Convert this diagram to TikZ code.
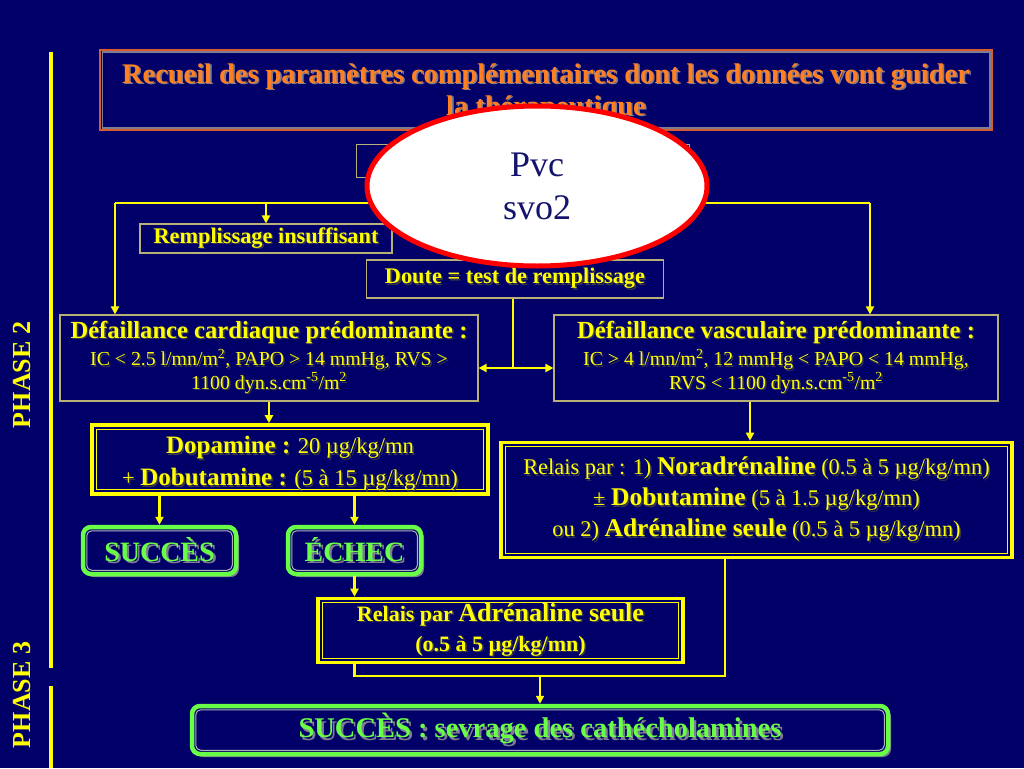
\documentclass[tikz,border=0pt]{standalone}
\usepackage{fontspec}
\setmainfont{Liberation Serif}
\usetikzlibrary{arrows.meta,shapes.geometric,shadows}
\definecolor{bg}{RGB}{0,0,104}
\definecolor{yl}{RGB}{255,255,0}
\definecolor{tanl}{RGB}{185,175,120}
\definecolor{org}{RGB}{255,128,32}
\definecolor{orgline}{RGB}{215,90,50}
\definecolor{grn}{RGB}{105,255,70}
\definecolor{shd}{RGB}{125,125,145}
\definecolor{shdy}{RGB}{55,55,75}
\definecolor{navy}{RGB}{20,20,110}
\newcommand{\shtxt}[2][shdy]{\leavevmode\rlap{\kern1.6pt\raisebox{-1.6pt}{\textcolor{#1}{#2}}}#2}
\newcommand{\gsh}[1]{\leavevmode\rlap{\kern2.4pt\raisebox{-2.4pt}{\textcolor{shd}{#1}}}#1}
\begin{document}
\begin{tikzpicture}[x=1pt,y=-1pt,
  ln/.style={draw=yl,line width=2.2pt},
  arr/.style={draw=yl,line width=2.2pt,-{Triangle[length=8pt,width=8pt]}},
  thinbox/.style={draw=tanl,line width=1.2pt,fill=bg,inner sep=0pt,align=center,text=yl},
  dblbox/.style={draw=yl,line width=3.6pt,fill=bg,inner sep=0pt,align=center,text=yl},
  innery/.style={draw=yl,line width=1.3pt},
  gbox/.style={draw=grn,line width=4.5pt,rounded corners=8pt,fill=bg,inner sep=0pt,align=center,text=grn,
    drop shadow={shadow xshift=3pt,shadow yshift=-3pt,fill=shd,opacity=1}},
  innerg/.style={draw=shd!60!white,line width=1pt,rounded corners=5pt},
  phase/.style={text=yl,font=\fontsize{26}{30}\selectfont\bfseries,rotate=90}
]
\useasboundingbox (0,0) rectangle (1024,768);
\fill[bg] (0,0) rectangle (1024,768);

% phase bars
\coordinate (b1) at (51,52);
\coordinate (b2) at (51,668);
\coordinate (b3) at (51,686);
\coordinate (b4) at (51,768);
\draw[yl,line width=4.5pt] (b1) -- (b2);
\draw[yl,line width=4.5pt] (b3) -- (b4);
\node[phase] (ph2) at (22,375) {PHASE 2};
\node[phase] (ph3) at (22,695) {PHASE 3};

% title
\node[draw=orgline,line width=1.6pt,minimum width=892pt,minimum height=80pt,inner sep=0pt] (tbox) at (546,90) {};
\draw[shd,line width=1.4pt] ([shift={(3pt,-3pt)}]tbox.north west) rectangle ([shift={(-3pt,3pt)}]tbox.south east);
\node[text=org,align=center,font=\fontsize{28.4}{32}\selectfont\bfseries] (title) at (546,93)
  {\shtxt[shd]{Recueil des paramètres complémentaires dont les données vont guider}\\\shtxt[shd]{la thérapeutique}};

% hidden box behind ellipse
\node[thinbox,minimum width=333pt,minimum height=33pt] (hid) at (523,161) {};

% boxes
\node[thinbox,minimum width=252pt,minimum height=29pt,font=\fontsize{22.3}{24}\selectfont\bfseries] (rem) at (266,238.5) {\shtxt{Remplissage insuffisant}};
\node[thinbox,minimum width=297pt,minimum height=38pt,font=\fontsize{22.3}{24}\selectfont\bfseries] (dou) at (515,279) {\shtxt{Doute = test de remplissage}};

\node[thinbox,minimum width=418pt,minimum height=86pt,font=\fontsize{19.8}{22}\selectfont] (card) at (269,358)
  {{\fontsize{24.6}{26}\selectfont\bfseries\shtxt{Défaillance cardiaque prédominante :}}\\[3pt]
   \shtxt{IC < 2.5 l/mn/m\textsuperscript{2}, PAPO > 14 mmHg, RVS >}\\
   \shtxt{1100 dyn.s.cm\textsuperscript{-5}/m\textsuperscript{2}}};
\node[thinbox,minimum width=444pt,minimum height=86pt,font=\fontsize{19.8}{22}\selectfont] (vasc) at (776,358)
  {{\fontsize{24.6}{26}\selectfont\bfseries\shtxt{Défaillance vasculaire prédominante :}}\\[3pt]
   \shtxt{IC > 4 l/mn/m\textsuperscript{2}, 12 mmHg < PAPO < 14 mmHg,}\\
   \shtxt{RVS < 1100 dyn.s.cm\textsuperscript{-5}/m\textsuperscript{2}}};

\node[dblbox,minimum width=396pt,minimum height=69pt] (dopa) at (290,459.5) {};
\draw[innery] ([shift={(6pt,-6pt)}]dopa.north west) rectangle ([shift={(-6pt,6pt)}]dopa.south east);
\node[text=yl,align=center,inner sep=0pt,font=\fontsize{22.5}{32}\selectfont] (dopaT) at (290,464)
  {\shtxt{{\fontsize{25}{32}\selectfont\bfseries Dopamine :} 20 µg/kg/mn}\\
   \shtxt{+ {\fontsize{25}{32}\selectfont\bfseries Dobutamine :} (5 à 15 µg/kg/mn)}};

\node[dblbox,minimum width=511pt,minimum height=115pt,font=\fontsize{22.4}{31}\selectfont] (relR) at (756.5,500)
  {\shtxt{Relais par : 1) {\fontsize{25.5}{31}\selectfont\bfseries Noradrénaline} (0.5 à 5 µg/kg/mn)}\\
   \shtxt{± {\fontsize{25.5}{31}\selectfont\bfseries Dobutamine} (5 à 1.5 µg/kg/mn)}\\
   \shtxt{ou 2) {\fontsize{25.5}{31}\selectfont\bfseries Adrénaline seule} (0.5 à 5 µg/kg/mn)}};
\draw[innery] ([shift={(6pt,-6pt)}]relR.north west) rectangle ([shift={(-6pt,6pt)}]relR.south east);

\node[gbox,minimum width=153pt,minimum height=47pt,font=\fontsize{28}{30}\selectfont\bfseries] (succ) at (159.5,550.5) {\gsh{SUCCÈS}};
\draw[innerg] ([shift={(6pt,-6pt)}]succ.north west) rectangle ([shift={(-6pt,6pt)}]succ.south east);
\node[gbox,minimum width=133pt,minimum height=47pt,font=\fontsize{28}{30}\selectfont\bfseries] (echec) at (354.5,550.5) {\gsh{ÉCHEC}};
\draw[innerg] ([shift={(6pt,-6pt)}]echec.north west) rectangle ([shift={(-6pt,6pt)}]echec.south east);

\node[dblbox,minimum width=365pt,minimum height=64pt,font=\fontsize{22}{30}\selectfont\bfseries] (relA) at (500.5,630.5)
  {\shtxt{Relais par {\fontsize{26}{30}\selectfont Adrénaline seule}}\\
   \shtxt{(o.5 à 5 µg/kg/mn)}};
\draw[innery] ([shift={(6pt,-6pt)}]relA.north west) rectangle ([shift={(-6pt,6pt)}]relA.south east);

\node[gbox,minimum width=696pt,minimum height=48pt,font=\fontsize{28.5}{30}\selectfont\bfseries] (fin) at (540,730) {\gsh{SUCCÈS : sevrage des cathécholamines}};
\draw[innerg] ([shift={(6pt,-6pt)}]fin.north west) rectangle ([shift={(-6pt,6pt)}]fin.south east);

% connectors
\coordinate (eL) at (420,203);
\coordinate (eR) at (660,203);
\coordinate (cL) at (115,203);
\coordinate (cR) at (870,203);
\draw[ln] (eL) -- (cL);
\draw[arr] (cL) -- (cL |- card.north);
\draw[arr] (rem.north |- cL) -- (rem.north);
\draw[ln] (eR) -- (cR);
\draw[arr] (cR) -- (cR |- vasc.north);

\coordinate (dj) at (513,368);
\draw[ln] (dou.south -| dj) -- (dj);
\draw[arr] (dj) -- (dj -| card.east);
\draw[arr] (dj) -- (dj -| vasc.west);

\draw[arr] (card.south) -- (card.south |- dopa.north);
\coordinate (vx) at (750,401);
\draw[arr] (vasc.south -| vx) -- (vx |- relR.north);

\draw[arr] (dopa.south -| succ.north) -- (succ.north);
\draw[arr] (dopa.south -| echec.north) -- (echec.north);
\draw[arr] (echec.south) -- (echec.south |- relA.north);

\coordinate (jb) at (540,676);
\coordinate (jbR) at (725,676);
\draw[ln] (relA.south -| echec.south) |- (jbR) -- (jbR |- relR.south);
\draw[arr] (jb) -- (fin.north);

% ellipse on top
\node[ellipse,fill=white,draw=red,line width=5pt,minimum width=340pt,minimum height=160pt,
  text=navy,align=center,font=\fontsize{36}{43}\selectfont] (pvc) at (537,186) {Pvc\\svo2};
\end{tikzpicture}
\end{document}
